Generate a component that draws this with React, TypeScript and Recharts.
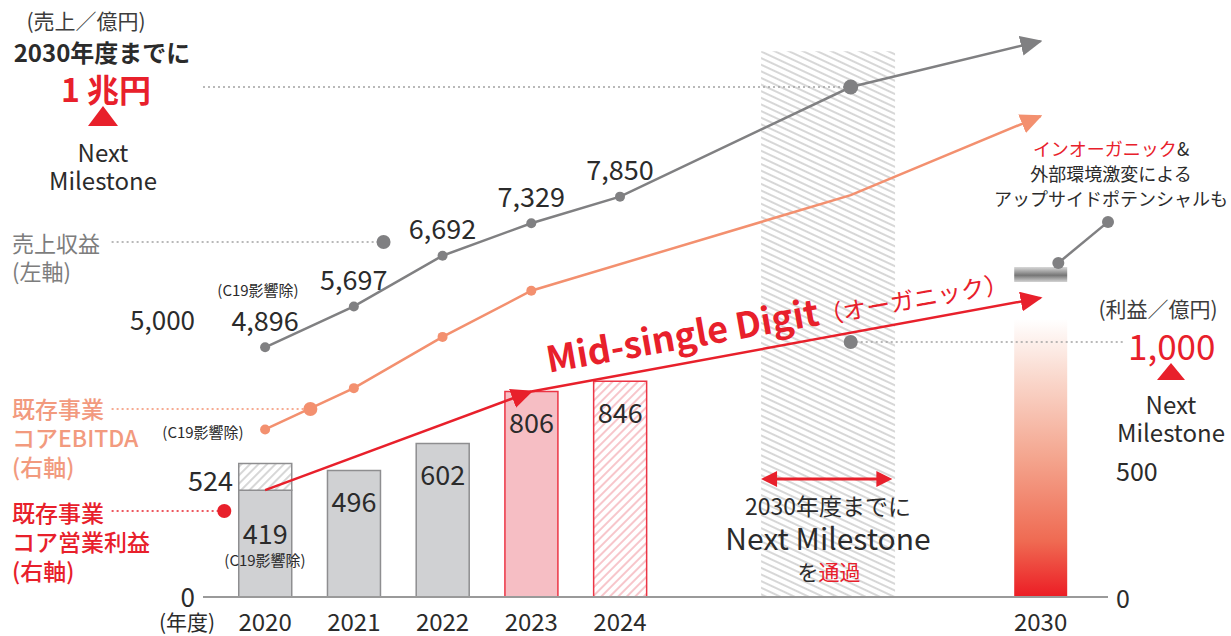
import React from 'react';
import {
  ComposedChart,
  Bar,
  Line,
  XAxis,
  YAxis,
  Cell,
  LabelList,
  ReferenceArea,
  ReferenceLine,
  ReferenceDot,
} from 'recharts';

const INK = '#2b2b2b';
const GRAY = '#808082';
const SALMON = '#f3906f';
const SALMON_TEXT = '#f29a7e';
const RED = '#e8202b';
const FONT = "'Noto Sans CJK JP', 'Noto Sans', sans-serif";

// fiscal years; slot = place on the x axis (2030 sits after a gap)
const yearLabels = ['2020', '2021', '2022', '2023', '2024', '2030'];
const yearSlots = [0, 1, 2, 3, 4, 8.74];

// 売上収益 (左軸, 億円)
const revenue = [4896, 5697, 6692, 7329, 7850];
// 既存事業コア営業利益 (右軸, 億円)
const coreOpProfit = [419, 496, 602, 806, 846];
const coreOpProfitExC19 = 524;
// 既存事業コアEBITDA (右軸, 億円)
const coreEbitda: (number | null)[] = [657, 819, 1020, 1201, null];

// path toward the 2030 Next Milestone
const milestoneSlot = 6.6;
const revenueMilestone = 10000;
const ebitdaMilestone = 1576;
const revenueArrowEnd = 10900;
const ebitdaArrowEnd = 1886;
const profitArrowEnd = 1173;
const profitMilestone = 1000;
const profit2030Bar = 1090;
const upsideBand = [1235, 1294];
const upsideSlots = [8.94, 9.5];
const upsideValues = [1310, 1471];

// hatched window "2030年度までに Next Milestone を通過"
const windowSlots = [5.59, 7.1];
const windowTop = 10700;
const windowArrowLevel = 463;

// legend connectors
const legendStartSlot = -1.73;
const rightLineEndSlot = 9.69;
const revenueLegend = { x: 1.335, y: 6961 };
const ebitdaLegend = { x: 0.51, y: 737 };
const profitLegend = { x: -0.46, y: 337 };

type Row = {
  x: number;
  revenue?: number | null;
  ebitda?: number | null;
  profit?: number | null;
  c19?: number | null;
  target?: number | null;
  gap?: number | null;
  band?: number | null;
  midA?: number | null;
  midB?: number | null;
};

const rows: Row[] = [];
revenue.forEach((v, i) =>
  rows.push({
    x: yearSlots[i],
    revenue: v,
    ebitda: coreEbitda[i],
    profit: coreOpProfit[i],
    c19: i === 0 ? coreOpProfitExC19 - coreOpProfit[0] : null,
    midA: i === 0 || i === 3 ? coreOpProfit[i] : null,
    midB: i === 3 ? coreOpProfit[i] : null,
  })
);
rows.push({ x: milestoneSlot, revenue: revenueMilestone, ebitda: ebitdaMilestone });
rows.push({
  x: yearSlots[5],
  revenue: revenueArrowEnd,
  ebitda: ebitdaArrowEnd,
  midB: profitArrowEnd,
  target: profit2030Bar,
  gap: upsideBand[0] - profit2030Bar,
  band: upsideBand[1] - upsideBand[0],
});

// upside segment lives on its own (hidden) x axis so it does not shrink the bars
const upsideRows = upsideSlots.map((x, i) => ({ x, upside: upsideValues[i] }));

const barFill = ['#d0d1d3', '#d0d1d3', '#d0d1d3', '#f6bec4', 'url(#hatchRed)'];
const barStroke = ['#8e8e90', '#8e8e90', '#8e8e90', '#ec3545', '#ec3545'];

const XTick = (p: any) => {
  const i = yearSlots.indexOf(p.payload.value);
  return (
    <text x={p.x} y={p.y + 15} textAnchor="middle" dominantBaseline="central" fontSize={24} fill={INK} fontFamily={FONT}>
      {yearLabels[i]}
    </text>
  );
};

const LeftTick = (p: any) => {
  const lift = p.payload.value === 0 ? 2 : 24;
  return (
    <text x={p.x} y={p.y - lift} textAnchor="end" dominantBaseline="central" fontSize={26} fill={INK} fontFamily={FONT}>
      {p.payload.value.toLocaleString('en-US')}
    </text>
  );
};

const RightTick = (p: any) => {
  const v = p.payload.value;
  const big = v === profitMilestone;
  return (
    <text
      x={p.x + (big ? 12 : 0)}
      y={p.y + (big ? 2 : 0)}
      textAnchor="start"
      dominantBaseline="central"
      fontSize={big ? 35 : 25}
      fill={big ? RED : INK}
      fontFamily={FONT}
    >
      {v.toLocaleString('en-US')}
    </text>
  );
};

const revenueDot = (p: any) => {
  if (p.payload.x > milestoneSlot) return <g key={`rd${p.index}`} />;
  return <circle key={`rd${p.index}`} cx={p.cx} cy={p.cy} r={p.payload.x === milestoneSlot ? 7.5 : 5} fill={GRAY} />;
};

const ebitdaDot = (p: any) => {
  if (p.payload.x > 3) return <g key={`ed${p.index}`} />;
  return <circle key={`ed${p.index}`} cx={p.cx} cy={p.cy} r={5} fill={SALMON} />;
};

const profitLabel = (p: any) => {
  if (p.value == null) return null;
  const drop = p.index === 0 ? 42 : 30;
  return (
    <text x={p.x + p.width / 2} y={p.y + drop} textAnchor="middle" dominantBaseline="central" fontSize={27} fill={INK} fontFamily={FONT}>
      {p.value}
    </text>
  );
};

const revenueLabel = (p: any) => {
  if (p.value == null || p.index > 4) return null;
  return (
    <text x={p.x} y={p.y - 28} textAnchor="middle" dominantBaseline="central" fontSize={27} fill={INK} fontFamily={FONT}>
      {p.value.toLocaleString('en-US')}
    </text>
  );
};

const DoubleArrow = (p: any) => {
  const { x1, y1, x2, y2 } = p;
  return (
    <g>
      <line x1={x1 + 10} y1={y1} x2={x2 - 10} y2={y2} stroke={RED} strokeWidth={3} />
      <path d={`M${x1},${y1} l16,-8 v16 z`} fill={RED} />
      <path d={`M${x2},${y2} l-16,-8 v16 z`} fill={RED} />
    </g>
  );
};

function Note({ x, y, size, color = INK, weight = 400, align = 'center', lh = 1, children }: any) {
  const tx = align === 'center' ? '-50%' : align === 'right' ? '-100%' : '0';
  return (
    <div
      style={{
        position: 'absolute',
        left: x,
        top: y,
        transform: `translate(${tx}, -50%)`,
        fontSize: size,
        color,
        fontWeight: weight,
        lineHeight: lh,
        textAlign: align === 'right' ? 'right' : align === 'left' ? 'left' : 'center',
        whiteSpace: 'nowrap',
        fontFamily: FONT,
      }}
    >
      {children}
    </div>
  );
}

function Triangle({ x, y, w, h }: any) {
  return (
    <div
      style={{
        position: 'absolute',
        left: x - w / 2,
        top: y - h / 2,
        width: 0,
        height: 0,
        borderLeft: `${w / 2}px solid transparent`,
        borderRight: `${w / 2}px solid transparent`,
        borderBottom: `${h}px solid ${RED}`,
      }}
    />
  );
}

const dotted = { stroke: '#a2a2a2', strokeWidth: 1.6, strokeDasharray: '2 3' };

export default function App() {
  return (
    <div style={{ position: 'absolute', left: 0, top: 0, width: 1231, height: 636, background: '#fff' }}>
      <ComposedChart width={1231} height={636} data={rows} margin={{ top: 36, right: 63, bottom: 9, left: 143 }}>
        <defs>
          <pattern id="hatchBand" width="8" height="6" patternUnits="userSpaceOnUse" patternTransform="rotate(25)">
            <line x1="0" y1="1" x2="8" y2="1" stroke="#c6c6c6" strokeWidth="1.4" />
          </pattern>
          <pattern id="hatchGray" width="6" height="6" patternUnits="userSpaceOnUse" patternTransform="rotate(-45)">
            <rect width="6" height="6" fill="#fff" />
            <line x1="0" y1="1" x2="6" y2="1" stroke="#bdbdbd" strokeWidth="1.2" />
          </pattern>
          <pattern id="hatchRed" width="6" height="6" patternUnits="userSpaceOnUse" patternTransform="rotate(-45)">
            <rect width="6" height="6" fill="#fff" />
            <line x1="0" y1="1" x2="6" y2="1" stroke="#f3a1a9" strokeWidth="1.2" />
          </pattern>
          <linearGradient id="targetGrad" x1="0" y1="0" x2="0" y2="1">
            <stop offset="0" stopColor="#ffffff" />
            <stop offset="0.2" stopColor="#fadacf" />
            <stop offset="0.5" stopColor="#f4a58e" />
            <stop offset="0.8" stopColor="#ef6a52" />
            <stop offset="1" stopColor="#ec1c24" />
          </linearGradient>
          <linearGradient id="bandGrad" x1="0" y1="0" x2="0" y2="1">
            <stop offset="0" stopColor="#d8d8d8" />
            <stop offset="0.55" stopColor="#767676" />
            <stop offset="1" stopColor="#d4d4d4" />
          </linearGradient>
          <marker id="headGray" markerUnits="userSpaceOnUse" markerWidth="22" markerHeight="20" refX="20" refY="10" orient="auto" viewBox="0 0 22 20">
            <path d="M0,0 L22,10 L0,20 Z" fill={GRAY} />
          </marker>
          <marker id="headSalmon" markerUnits="userSpaceOnUse" markerWidth="22" markerHeight="20" refX="20" refY="10" orient="auto" viewBox="0 0 22 20">
            <path d="M0,0 L22,10 L0,20 Z" fill={SALMON} />
          </marker>
          <marker id="headRed" markerUnits="userSpaceOnUse" markerWidth="22" markerHeight="20" refX="20" refY="10" orient="auto" viewBox="0 0 22 20">
            <path d="M0,0 L22,10 L0,20 Z" fill={RED} />
          </marker>
        </defs>

        <ReferenceArea
          yAxisId="L"
          x1={windowSlots[0]}
          x2={windowSlots[1]}
          y1={0}
          y2={windowTop}
          fill="url(#hatchBand)"
          fillOpacity={1}
          stroke="none"
        />

        <XAxis
          type="number"
          dataKey="x"
          domain={[-0.7, 9.5]}
          ticks={yearSlots}
          interval={0}
          height={30}
          axisLine={{ stroke: '#9a9a9a', strokeWidth: 2 }}
          tickLine={false}
          tick={<XTick />}
        />
        <XAxis xAxisId="u" type="number" dataKey="x" domain={[-0.7, 9.5]} hide />
        <YAxis yAxisId="L" domain={[0, 11000]} ticks={[0, 5000]} width={60} axisLine={false} tickLine={false} tick={<LeftTick />} />
        <YAxis
          yAxisId="R"
          orientation="right"
          domain={[0, 2200]}
          ticks={[0, 500, profitMilestone]}
          width={60}
          axisLine={false}
          tickLine={false}
          tick={<RightTick />}
        />

        <Bar yAxisId="R" dataKey="profit" stackId="p" barSize={53} isAnimationActive={false} strokeWidth={1.5}>
          {rows.map((_, i) => (
            <Cell key={i} fill={barFill[i] || '#d0d1d3'} stroke={barStroke[i] || '#8e8e90'} />
          ))}
          <LabelList dataKey="profit" content={profitLabel} />
        </Bar>
        <Bar yAxisId="R" dataKey="c19" stackId="p" barSize={53} fill="url(#hatchGray)" stroke="#8e8e90" strokeWidth={1.5} isAnimationActive={false} />
        <Bar yAxisId="R" dataKey="target" stackId="p" barSize={53} fill="url(#targetGrad)" isAnimationActive={false} />
        <Bar yAxisId="R" dataKey="gap" stackId="p" barSize={53} fill="transparent" isAnimationActive={false} />
        <Bar yAxisId="R" dataKey="band" stackId="p" barSize={53} fill="url(#bandGrad)" isAnimationActive={false} />

        <ReferenceLine
          yAxisId="L"
          segment={[{ x: -0.7, y: revenueMilestone }, { x: milestoneSlot, y: revenueMilestone }]}
          ifOverflow="visible"
          {...dotted}
        />
        <ReferenceLine
          yAxisId="R"
          segment={[{ x: milestoneSlot, y: profitMilestone }, { x: rightLineEndSlot, y: profitMilestone }]}
          ifOverflow="visible"
          {...dotted}
        />
        <ReferenceLine
          yAxisId="L"
          segment={[{ x: legendStartSlot, y: revenueLegend.y }, { x: revenueLegend.x, y: revenueLegend.y }]}
          ifOverflow="visible"
          {...dotted}
        />
        <ReferenceLine
          yAxisId="R"
          segment={[{ x: legendStartSlot, y: ebitdaLegend.y }, { x: ebitdaLegend.x, y: ebitdaLegend.y }]}
          ifOverflow="visible"
          stroke={SALMON}
          strokeWidth={1.6}
          strokeDasharray="2 3"
        />
        <ReferenceLine
          yAxisId="R"
          segment={[{ x: legendStartSlot, y: profitLegend.y }, { x: profitLegend.x, y: profitLegend.y }]}
          ifOverflow="visible"
          stroke={RED}
          strokeWidth={1.6}
          strokeDasharray="2 3"
        />
        <ReferenceLine
          yAxisId="R"
          segment={[{ x: windowSlots[0], y: windowArrowLevel }, { x: windowSlots[1] - 0.03, y: windowArrowLevel }]}
          ifOverflow="visible"
          shape={<DoubleArrow />}
        />

        <Line yAxisId="L" dataKey="revenue" type="linear" stroke={GRAY} strokeWidth={2.5} connectNulls dot={revenueDot} activeDot={false} markerEnd="url(#headGray)" isAnimationActive={false}>
          <LabelList dataKey="revenue" content={revenueLabel} />
        </Line>
        <Line yAxisId="R" dataKey="ebitda" type="linear" stroke={SALMON} strokeWidth={2.5} connectNulls dot={ebitdaDot} activeDot={false} markerEnd="url(#headSalmon)" isAnimationActive={false} />
        <Line yAxisId="R" dataKey="midA" type="linear" stroke={RED} strokeWidth={2.5} connectNulls dot={false} activeDot={false} markerEnd="url(#headRed)" isAnimationActive={false} />
        <Line yAxisId="R" dataKey="midB" type="linear" stroke={RED} strokeWidth={2.5} connectNulls dot={false} activeDot={false} markerEnd="url(#headRed)" isAnimationActive={false} />
        <Line
          xAxisId="u"
          yAxisId="R"
          data={upsideRows}
          dataKey="upside"
          type="linear"
          stroke={GRAY}
          strokeWidth={2.5}
          dot={{ r: 6, fill: GRAY, stroke: 'none' }}
          activeDot={false}
          isAnimationActive={false}
        />

        <ReferenceDot yAxisId="L" x={revenueLegend.x} y={revenueLegend.y} r={7} fill={GRAY} stroke="none" ifOverflow="visible" />
        <ReferenceDot yAxisId="R" x={ebitdaLegend.x} y={ebitdaLegend.y} r={7} fill={SALMON} stroke="none" ifOverflow="visible" />
        <ReferenceDot yAxisId="R" x={profitLegend.x} y={profitLegend.y} r={7} fill={RED} stroke="none" ifOverflow="visible" />
        <ReferenceDot yAxisId="R" x={milestoneSlot} y={profitMilestone} r={7} fill={GRAY} stroke="none" ifOverflow="visible" />
      </ComposedChart>

      {/* top-left: revenue milestone */}
      <Note x={86} y={20} size={21} color="#3c3c3c">(売上／億円)</Note>
      <Note x={102} y={52} size={24} weight={600}>2030年度までに</Note>
      <Note x={106} y={88} size={32} weight={600} color={RED}>1 兆円</Note>
      <Triangle x={103} y={116} w={30} h={20} />
      <Note x={103} y={166} size={24} lh="28px">
        Next
        <br />
        Milestone
      </Note>

      {/* series captions */}
      <Note x={12} y={256} size={22} color="#7d7d7d" align="left" lh="28px">
        売上収益
        <br />
        (左軸)
      </Note>
      <Note x={12} y={437} size={23} weight={500} color={SALMON_TEXT} align="left" lh="29px">
        既存事業
        <br />
        コアEBITDA
        <br />
        (右軸)
      </Note>
      <Note x={12} y={541} size={23} weight={500} color={RED} align="left" lh="29px">
        既存事業
        <br />
        コア営業利益
        <br />
        (右軸)
      </Note>

      <Note x={258} y={289} size={15}>(C19影響除)</Note>
      <Note x={203} y={431} size={15}>(C19影響除)</Note>
      <Note x={265} y={559} size={15}>(C19影響除)</Note>
      <Note x={233} y={479} size={27} align="right">{coreOpProfitExC19}</Note>
      <Note x={187} y={621} size={21}>(年度)</Note>

      {/* growth caption along the red arrow */}
      <div
        style={{
          position: 'absolute',
          left: 546,
          top: 339,
          height: 36,
          transformOrigin: '0 50%',
          transform: 'rotate(-10deg)',
          whiteSpace: 'nowrap',
          fontFamily: FONT,
          color: RED,
          lineHeight: '36px',
        }}
      >
        <span style={{ fontSize: 36, fontWeight: 700 }}>Mid-single Digit</span>
        <span style={{ fontSize: 24 }}>（オーガニック）</span>
      </div>

      {/* upside note */}
      <Note x={1111} y={173} size={18} lh="25px">
        <span style={{ color: RED }}>インオーガニック</span>&amp;
        <br />
        外部環境激変による
        <br />
        アップサイドポテンシャルも
      </Note>

      {/* window caption */}
      <Note x={828} y={505} size={23}>2030年度までに</Note>
      <Note x={828} y={537} size={30}>Next Milestone</Note>
      <Note x={829} y={571} size={21}>
        を<span style={{ color: RED }}>通過</span>
      </Note>

      {/* right: profit milestone */}
      <Note x={1158} y={308} size={21} color="#3c3c3c">(利益／億円)</Note>
      <Triangle x={1171} y={371} w={28} h={17} />
      <Note x={1171} y={418} size={24} lh="28px">
        Next
        <br />
        Milestone
      </Note>
    </div>
  );
}
